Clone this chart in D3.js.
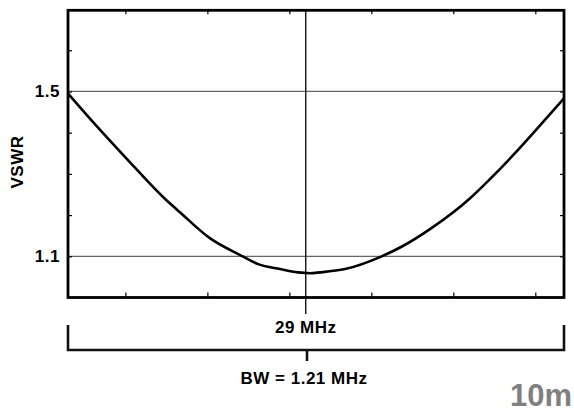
<!DOCTYPE html>
<html>
<head>
<meta charset="utf-8">
<script src="https://cdn.jsdelivr.net/npm/d3@7"></script>
<style>
  html, body { margin: 0; padding: 0; background: #fff; }
  svg { display: block; font-family: "Liberation Sans", Arial, sans-serif; }
  .lbl { font-size: 17px; font-weight: bold; letter-spacing: 0.5px; }
</style>
</head>
<body>
<svg id="chart" width="574" height="412"></svg>
<script>
// ---- data ----
const freqMHz = [28.420, 28.479, 28.564, 28.657, 28.693, 28.766, 28.840, 28.884, 28.937, 28.981,
                 29.010, 29.035, 29.096, 29.181, 29.237, 29.303, 29.401, 29.449, 29.515,
                 29.564, 29.630];
const vswr    = [1.495, 1.428, 1.336, 1.239, 1.207, 1.144, 1.103, 1.081, 1.069, 1.061,
                 1.059, 1.061, 1.069, 1.098, 1.125, 1.166, 1.241, 1.287, 1.355,
                 1.409, 1.483];
const xTicks = [28.56, 28.76, 28.96, 29.16, 29.36, 29.56];
const yTicks = [1.1, 1.2, 1.3, 1.4, 1.5, 1.6];
const yLabeled = [1.1, 1.5];
const markerFreq = 29.0;
const markerLabel = "29 MHz";
const bwLabel = "BW = 1.21 MHz";
const bandLabel = "10m";
const yTitle = "VSWR";
const xDomain = [28.42, 29.63];
const yDomain = [1.0, 1.697];

// ---- layout ----
const L = 68, R = 564, T = 10.3, B = 297.5;
const svg = d3.select("#chart");
const x = d3.scaleLinear().domain(xDomain).range([L, R]);
const y = d3.scaleLinear().domain(yDomain).range([B, T]);

// gridlines at labeled values
svg.append("g").selectAll("line").data(yLabeled).join("line")
  .attr("x1", L).attr("x2", R)
  .attr("y1", d => y(d)).attr("y2", d => y(d))
  .attr("stroke", "#666").attr("stroke-width", 1.3);

// marker vertical line
svg.append("line")
  .attr("x1", x(markerFreq)).attr("x2", x(markerFreq))
  .attr("y1", T).attr("y2", 314)
  .attr("stroke", "#000").attr("stroke-width", 1.3);

// axes (inward ticks, no domain)
function styleAxis(g) {
  g.select(".domain").remove();
  g.selectAll(".tick line").attr("stroke", "#000").attr("stroke-width", 1.2);
  g.selectAll(".tick text").attr("fill", "#000").attr("class", "lbl");
}
svg.append("g").attr("transform", `translate(0,${B})`)
  .call(d3.axisBottom(x).tickValues(xTicks).tickSize(-5).tickFormat(""))
  .call(styleAxis);
svg.append("g").attr("transform", `translate(0,${T})`)
  .call(d3.axisTop(x).tickValues(xTicks).tickSize(-4).tickFormat(""))
  .call(styleAxis);
svg.append("g").attr("transform", `translate(${L},0)`)
  .call(d3.axisLeft(y).tickValues(yTicks).tickSize(-4).tickPadding(8)
        .tickFormat(d => yLabeled.some(v => Math.abs(v - d) < 1e-9) ? d3.format(".1f")(d) : ""))
  .call(styleAxis);
svg.append("g").attr("transform", `translate(${R},0)`)
  .call(d3.axisRight(y).tickValues(yTicks).tickSize(-4).tickFormat(""))
  .call(styleAxis);

// curve
const pts = freqMHz.map((f, i) => [f, vswr[i]]);
svg.append("path").datum(pts)
  .attr("fill", "none").attr("stroke", "#000").attr("stroke-width", 2.6)
  .attr("stroke-linejoin", "round")
  .attr("d", d3.line().x(d => x(d[0])).y(d => y(d[1])).curve(d3.curveMonotoneX));

// plot border
svg.append("rect")
  .attr("x", L).attr("y", T).attr("width", R - L).attr("height", B - T)
  .attr("fill", "none").attr("stroke", "#000").attr("stroke-width", 2.8);

// y title
svg.append("text")
  .attr("class", "lbl")
  .attr("transform", `translate(23,162) rotate(-90)`)
  .attr("text-anchor", "middle")
  .text(yTitle);

// marker label
svg.append("text")
  .attr("class", "lbl")
  .attr("x", x(markerFreq)).attr("y", 333)
  .attr("text-anchor", "middle")
  .text(markerLabel);

// bandwidth bracket
const bx0 = x(xDomain[0]), bx1 = x(xDomain[1]);
svg.append("path")
  .attr("d", `M${bx0},325 V350 H${bx1} V325`)
  .attr("fill", "none").attr("stroke", "#111").attr("stroke-width", 2.6);
svg.append("line")
  .attr("x1", (bx0 + bx1) / 2 - 9).attr("x2", (bx0 + bx1) / 2 - 9)
  .attr("y1", 350).attr("y2", 361)
  .attr("stroke", "#111").attr("stroke-width", 2.6);
svg.append("text")
  .attr("class", "lbl")
  .attr("x", 304).attr("y", 384)
  .attr("text-anchor", "middle")
  .text(bwLabel);

// band label
svg.append("text")
  .attr("x", 572).attr("y", 406)
  .attr("text-anchor", "end")
  .attr("fill", "#808080")
  .style("font-size", "31px").style("font-weight", "bold")
  .text(bandLabel);
</script>
</body>
</html>
